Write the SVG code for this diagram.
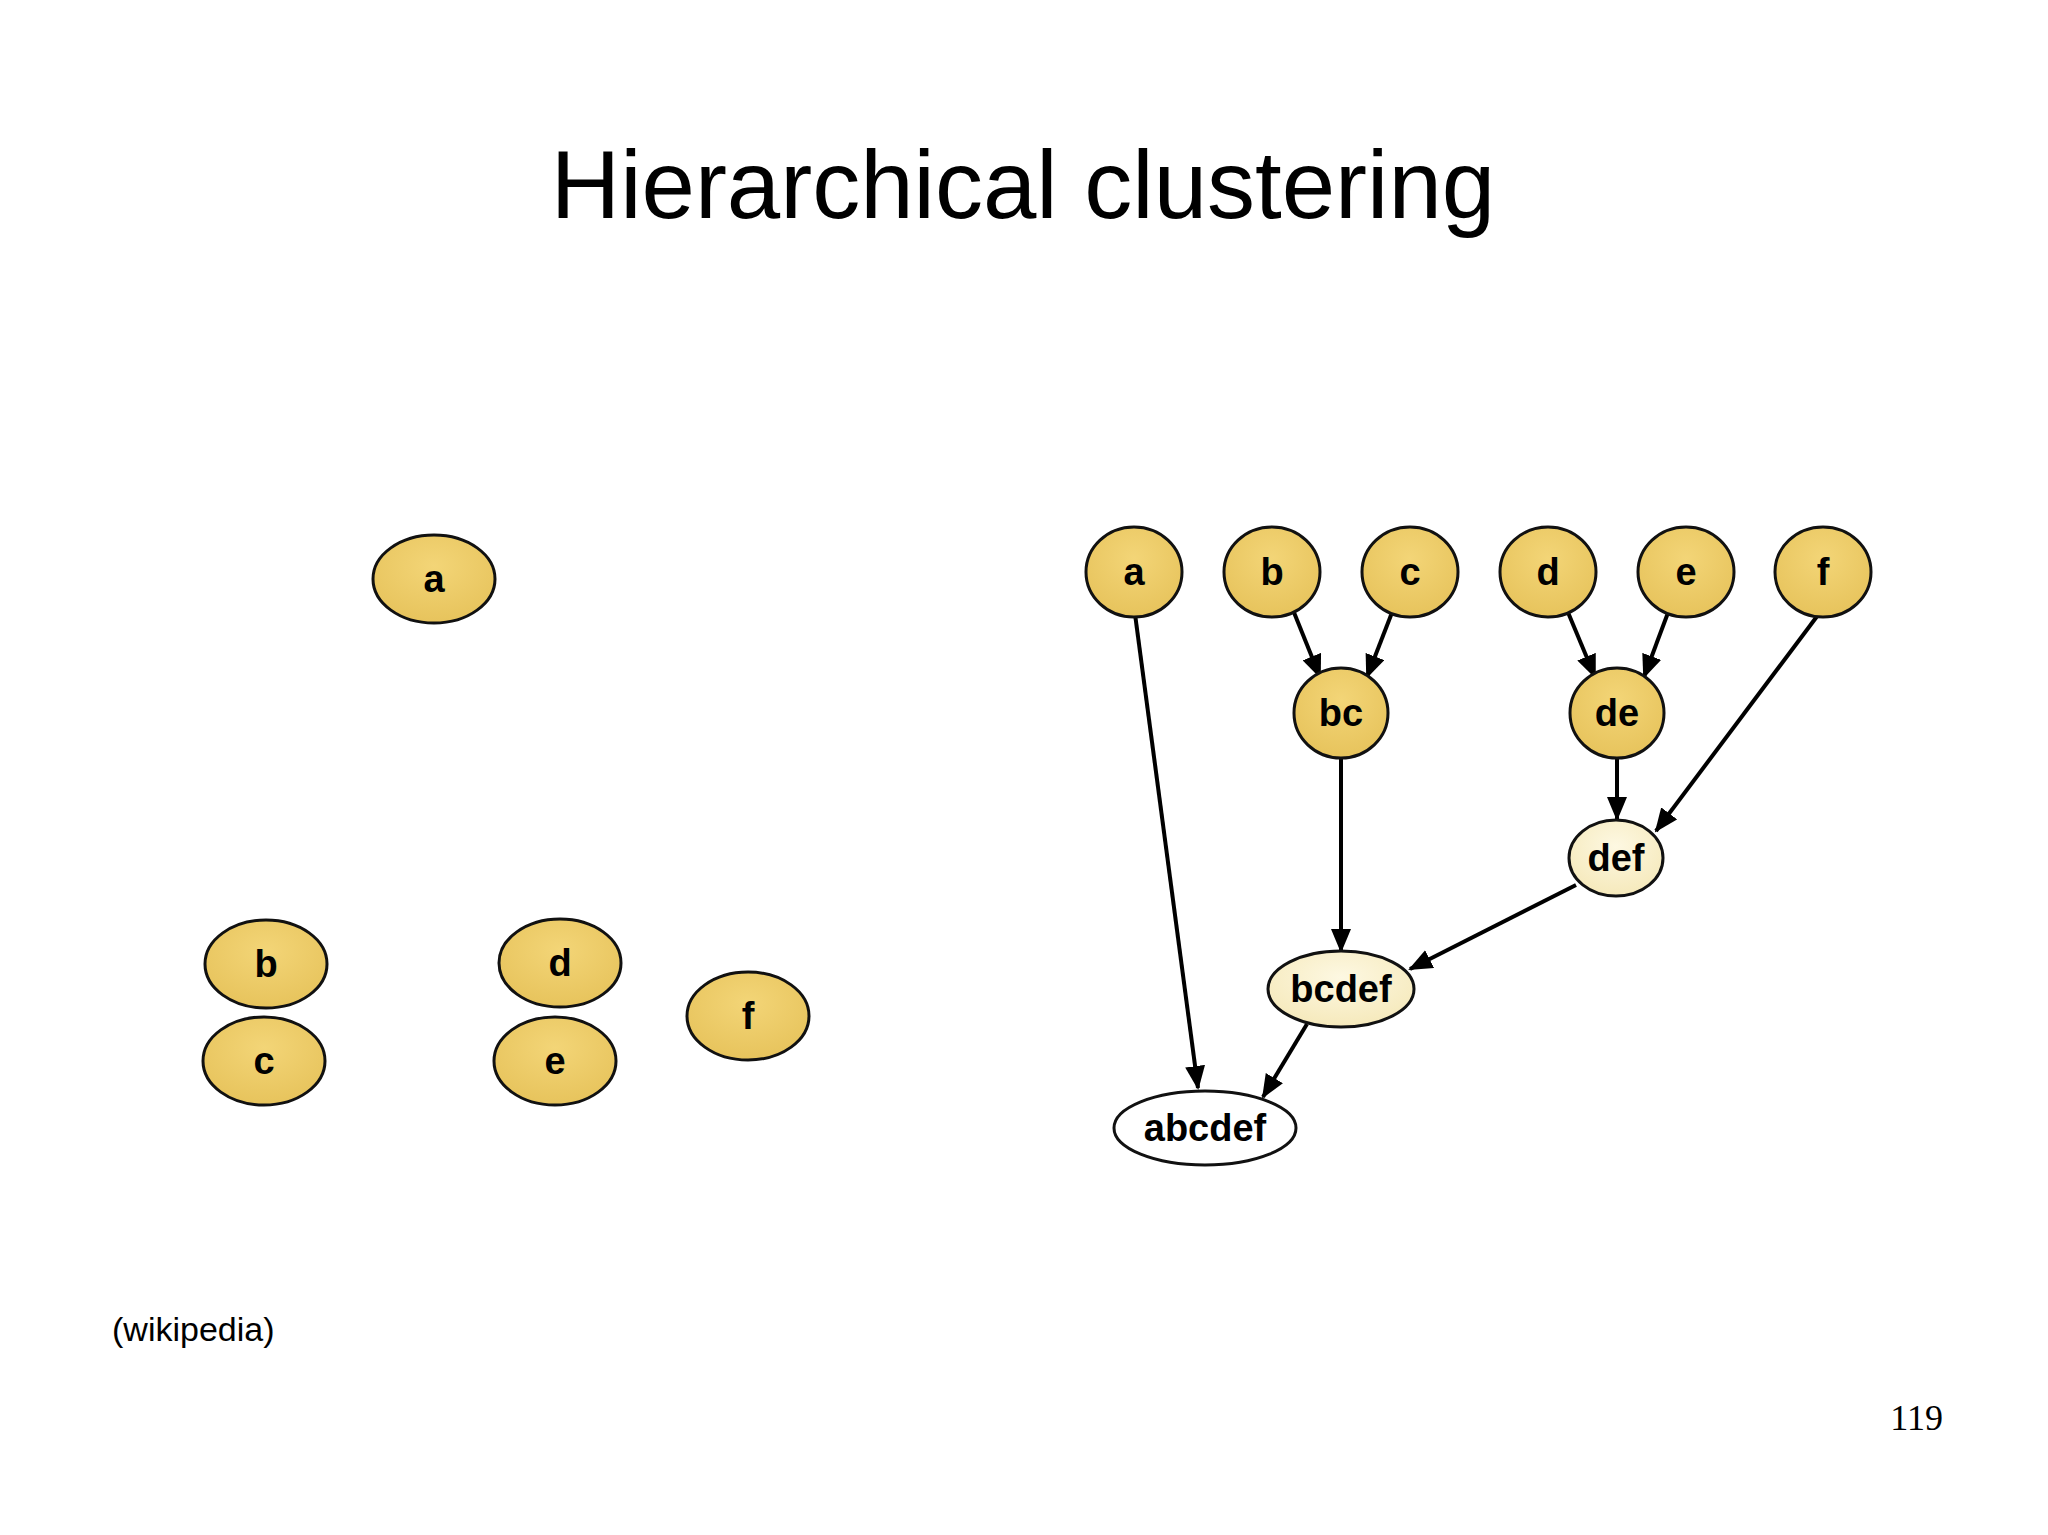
<svg xmlns="http://www.w3.org/2000/svg" width="2048" height="1535" viewBox="0 0 2048 1535">
<style>
.n{stroke:#111;stroke-width:3}
.y{fill:url(#gy)}
.l{fill:url(#gl)}
.w{fill:#fff}
.t{font-family:"Liberation Sans",Arial,sans-serif;font-weight:bold;font-size:38px;text-anchor:middle;fill:#000}
.e{stroke:#000;stroke-width:4;fill:none;marker-end:url(#ah)}
</style>
<defs>
<radialGradient id="gy" cx="0.5" cy="0.35" r="0.7"><stop offset="0" stop-color="#F3D577"/><stop offset="1" stop-color="#E6C25A"/></radialGradient>
<radialGradient id="gl" cx="0.5" cy="0.35" r="0.7"><stop offset="0" stop-color="#FDF8E2"/><stop offset="1" stop-color="#F5E8B8"/></radialGradient>
<marker id="ah" markerUnits="userSpaceOnUse" markerWidth="24" markerHeight="20" refX="22" refY="10" orient="auto"><path d="M0,0 L24,10 L0,20 Z" fill="#000"/></marker>
</defs>
<rect width="2048" height="1535" fill="#fff"/>
<text x="1023" y="218" font-family="Liberation Sans,Arial,sans-serif" font-size="96" text-anchor="middle">Hierarchical clustering</text>
<text x="112" y="1341" font-family="Liberation Sans,Arial,sans-serif" font-size="34">(wikipedia)</text>
<text x="1943" y="1430" font-family="Liberation Serif,Times New Roman,serif" font-size="36" text-anchor="end">119</text>
<g id="left">
<g id="la"><ellipse class="n y" cx="434" cy="579" rx="61" ry="44"/><text class="t" x="434" y="592">a</text></g>
<g id="lb"><ellipse class="n y" cx="266" cy="964" rx="61" ry="44"/><text class="t" x="266" y="977">b</text></g>
<g id="lc"><ellipse class="n y" cx="264" cy="1061" rx="61" ry="44"/><text class="t" x="264" y="1074">c</text></g>
<g id="ld"><ellipse class="n y" cx="560" cy="963" rx="61" ry="44"/><text class="t" x="560" y="976">d</text></g>
<g id="le"><ellipse class="n y" cx="555" cy="1061" rx="61" ry="44"/><text class="t" x="555" y="1074">e</text></g>
<g id="lf"><ellipse class="n y" cx="748" cy="1016" rx="61" ry="44"/><text class="t" x="748" y="1029">f</text></g>
</g>
<g id="connectors">
<line class="e" x1="1135" y1="614" x2="1198" y2="1088"/>
<line class="e" x1="1293" y1="610" x2="1320" y2="677"/>
<line class="e" x1="1393" y1="610" x2="1367" y2="677"/>
<line class="e" x1="1567" y1="610" x2="1595" y2="677"/>
<line class="e" x1="1669" y1="610" x2="1644" y2="677"/>
<line class="e" x1="1821" y1="611" x2="1656" y2="831"/>
<line class="e" x1="1617" y1="755" x2="1617" y2="819"/>
<line class="e" x1="1341" y1="756" x2="1341" y2="951"/>
<line class="e" x1="1576" y1="885" x2="1410" y2="969"/>
<line class="e" x1="1307" y1="1024" x2="1263" y2="1097"/>
</g>
<g id="ra"><ellipse class="n y" cx="1134" cy="572" rx="48" ry="45"/><text class="t" x="1134" y="585">a</text></g>
<g id="rb"><ellipse class="n y" cx="1272" cy="572" rx="48" ry="45"/><text class="t" x="1272" y="585">b</text></g>
<g id="rc"><ellipse class="n y" cx="1410" cy="572" rx="48" ry="45"/><text class="t" x="1410" y="585">c</text></g>
<g id="rd"><ellipse class="n y" cx="1548" cy="572" rx="48" ry="45"/><text class="t" x="1548" y="585">d</text></g>
<g id="re"><ellipse class="n y" cx="1686" cy="572" rx="48" ry="45"/><text class="t" x="1686" y="585">e</text></g>
<g id="rf"><ellipse class="n y" cx="1823" cy="572" rx="48" ry="45"/><text class="t" x="1823" y="585">f</text></g>
<g id="bc"><ellipse class="n y" cx="1341" cy="713" rx="47" ry="45"/><text class="t" x="1341" y="726">bc</text></g>
<g id="de"><ellipse class="n y" cx="1617" cy="713" rx="47" ry="45"/><text class="t" x="1617" y="726">de</text></g>
<g id="def"><ellipse class="n l" cx="1616" cy="858" rx="47" ry="38"/><text class="t" x="1616" y="871">def</text></g>
<g id="bcdef"><ellipse class="n l" cx="1341" cy="989" rx="73" ry="38"/><text class="t" x="1341" y="1002">bcdef</text></g>
<g id="abcdef"><ellipse class="n w" cx="1205" cy="1128" rx="91" ry="37"/><text class="t" x="1205" y="1141">abcdef</text></g>
</svg>
